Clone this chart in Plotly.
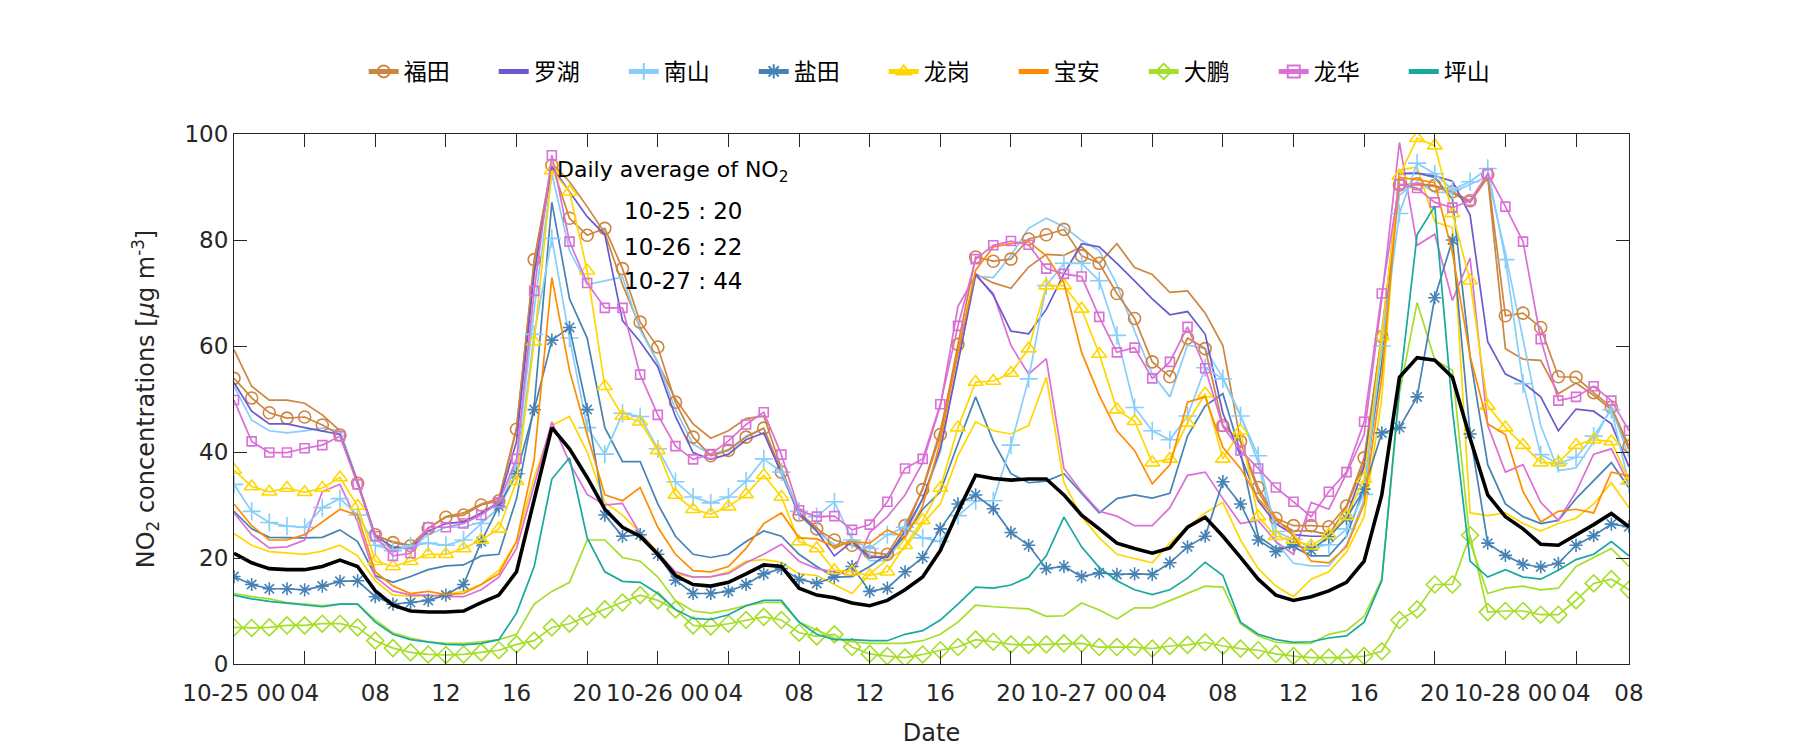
import plotly.graph_objects as go

HOURS = list(range(80))

TICK_POS = [0, 4, 8, 12, 16, 20, 24, 28, 32, 36, 40, 44, 48, 52, 56, 60, 64, 68, 72, 76, 79]
TICK_LABELS = ["10-25 00", "04", "08", "12", "16", "20", "10-26 00", "04", "08", "12", "16", "20",
               "10-27 00", "04", "08", "12", "16", "20", "10-28 00", "04", "08"]

futian = [53.9, 50.2, 47.4, 46.4, 46.6, 45.1, 43.2, 34.1, 24.4, 22.9, 22.3, 25.6, 27.7, 28.1, 30.0, 30.8, 44.3, 76.3, 94.1, 84.1,
          80.9, 82.2, 74.6, 64.5, 59.8, 49.4, 42.8, 39.3, 40.3, 42.8, 44.5, 36.2, 28.1, 25.5, 23.4, 22.4, 21.1, 20.7, 26.1, 32.9,
          43.3, 60.3, 76.8, 76.0, 76.4, 80.2, 81.0, 82.0, 77.0, 75.6, 69.9, 65.2, 57.0, 54.2, 61.5, 59.5, 45.0, 42.0, 33.3, 27.5,
          26.1, 26.1, 25.9, 29.8, 38.9, 61.8, 90.4, 90.6, 90.3, 89.1, 87.4, 92.3, 65.7, 66.2, 63.5, 54.2, 54.1, 51.2, 48.5, 41.1]
futian_b = [59.3, 52.4, 49.8, 49.8, 49.2, 47.0, 44.0, 34.5, 24.1, 23.1, 22.4, 25.6, 27.8, 28.5, 30.2, 31.2, 44.6, 75.6, 94.5, 91.0,
            86.3, 81.3, 71.6, 63.5, 56.8, 50.0, 45.3, 42.6, 44.0, 46.3, 46.8, 36.9, 28.5, 25.8, 21.8, 23.4, 20.4, 20.1, 25.1, 33.2,
            44.0, 58.8, 73.6, 71.9, 70.9, 74.9, 77.3, 77.1, 78.7, 75.6, 79.3, 74.8, 73.5, 70.1, 70.4, 66.2, 60.1, 42.0, 32.5, 27.1,
            25.1, 25.1, 24.4, 29.5, 37.9, 62.2, 90.4, 90.4, 90.1, 88.8, 87.1, 91.8, 59.5, 57.5, 57.3, 51.0, 53.0, 50.7, 48.0, 40.5]
luohu = [53.1, 47.7, 45.3, 45.3, 44.6, 44.0, 43.3, 34.2, 24.1, 22.1, 21.8, 25.1, 26.5, 26.8, 28.5, 30.5, 42.0, 73.6, 93.8, 89.1,
         84.4, 81.0, 64.8, 60.8, 56.1, 46.7, 39.9, 38.6, 39.6, 42.3, 43.6, 35.9, 28.5, 25.1, 20.4, 23.1, 20.1, 20.1, 25.1, 31.2,
         40.6, 56.8, 73.6, 69.6, 62.8, 62.3, 66.9, 73.6, 79.3, 78.7, 75.6, 72.3, 68.9, 65.9, 66.5, 62.2, 47.3, 39.3, 30.8, 26.5,
         24.4, 24.1, 24.1, 27.8, 37.2, 60.8, 92.5, 92.6, 92.1, 91.1, 84.7, 60.8, 54.7, 53.1, 50.4, 44.0, 48.1, 47.7, 45.3, 37.2]
nanshan = [33.9, 28.8, 26.7, 26.0, 25.8, 29.5, 31.2, 28.1, 22.4, 21.4, 22.3, 22.8, 22.4, 23.4, 26.5, 29.5, 35.9, 62.2, 80.3, 61.5,
           44.6, 39.6, 47.3, 46.7, 40.6, 34.4, 31.5, 30.4, 31.5, 34.5, 38.7, 36.2, 28.8, 27.8, 30.6, 23.4, 21.8, 24.4, 25.8, 23.8,
           23.1, 28.0, 30.8, 30.8, 41.3, 53.8, 71.4, 75.6, 75.6, 72.3, 62.0, 48.4, 44.0, 42.3, 46.8, 55.9, 53.8, 46.8, 39.3, 25.0,
           23.5, 22.0, 22.5, 25.5, 32.0, 60.0, 85.0, 94.5, 92.5, 89.5, 91.0, 93.5, 76.3, 52.9, 39.5, 37.8, 39.0, 43.0, 48.0, 34.0]
nanshan_b = [52.4, 46.0, 44.0, 43.6, 44.0, 44.5, 44.0, 34.2, 23.4, 21.8, 21.8, 24.4, 25.8, 25.8, 26.8, 29.2, 37.9, 66.9, 92.5, 78.0,
             71.6, 72.3, 73.0, 63.0, 57.0, 48.0, 41.5, 39.5, 40.5, 43.0, 44.5, 36.0, 28.0, 25.0, 22.5, 23.0, 19.5, 19.5, 24.5, 31.0,
             40.0, 57.0, 73.2, 72.9, 77.1, 82.2, 84.1, 82.5, 79.9, 78.0, 71.6, 62.8, 54.7, 50.4, 60.2, 59.5, 54.0, 47.0, 38.0, 23.0,
             19.0, 18.5, 18.5, 22.5, 31.0, 63.0, 88.5, 91.0, 89.0, 89.0, 90.5, 92.0, 77.5, 61.0, 45.0, 36.5, 37.0, 42.0, 48.5, 39.0]
yantian = [16.5, 15.0, 14.2, 14.2, 14.0, 14.7, 15.6, 15.7, 12.7, 11.3, 11.6, 12.0, 13.0, 15.0, 23.1, 29.8, 35.9, 48.0, 61.1, 63.5,
           48.0, 28.1, 24.1, 24.4, 20.7, 15.8, 13.3, 13.3, 13.7, 15.0, 17.0, 18.0, 16.0, 15.2, 16.4, 18.4, 13.7, 14.3, 17.4, 20.1,
           25.5, 30.2, 31.9, 29.3, 24.8, 22.4, 18.0, 18.4, 16.5, 17.2, 16.9, 17.0, 16.9, 19.1, 22.1, 24.1, 34.4, 30.2, 23.4, 21.2,
           22.5, 21.5, 24.0, 27.5, 33.0, 43.6, 44.6, 50.4, 69.1, 80.0, 43.4, 22.8, 20.5, 18.8, 18.3, 19.0, 22.4, 24.2, 26.4, 25.9]
yantian_b = [28.8, 25.5, 23.9, 23.8, 23.8, 23.9, 25.3, 23.1, 16.7, 15.4, 16.5, 17.8, 18.5, 18.7, 20.4, 20.7, 31.2, 48.7, 87.1, 68.9,
             61.5, 44.6, 38.2, 38.2, 30.2, 24.1, 20.7, 20.1, 20.7, 23.1, 25.1, 24.1, 20.7, 18.4, 16.4, 16.5, 18.4, 20.7, 24.1, 29.2,
             32.5, 41.6, 50.4, 42.0, 35.9, 34.2, 34.5, 35.9, 32.2, 28.5, 31.2, 31.9, 31.3, 32.2, 43.0, 48.7, 51.0, 39.9, 24.1, 21.8,
             22.1, 20.4, 20.4, 24.1, 33.2, 56.8, 92.5, 92.6, 91.8, 87.7, 58.0, 37.6, 30.2, 27.8, 26.5, 27.1, 31.2, 34.5, 38.0, 33.2]
longgang = [36.6, 33.5, 32.5, 33.2, 32.4, 33.2, 35.2, 29.8, 19.4, 18.4, 19.4, 20.7, 20.7, 21.8, 23.4, 25.5, 34.5, 60.8, 93.1, 89.1,
            74.2, 52.4, 46.8, 45.7, 40.3, 31.9, 29.2, 28.3, 29.7, 32.0, 35.6, 31.5, 23.1, 21.8, 17.7, 17.4, 16.7, 17.4, 22.4, 27.1,
            33.2, 44.6, 53.2, 53.4, 54.9, 59.5, 71.4, 71.4, 67.0, 58.5, 48.0, 45.8, 38.0, 38.7, 45.5, 51.0, 38.7, 44.0, 27.8, 24.1,
            23.4, 22.3, 24.4, 27.9, 34.9, 61.8, 92.1, 99.2, 97.8, 85.0, 72.3, 48.7, 44.6, 41.3, 38.0, 38.0, 41.3, 42.3, 42.0, 34.6]
longgang_b = [24.6, 22.4, 21.2, 20.9, 20.7, 21.3, 22.4, 20.4, 15.7, 13.0, 12.8, 12.8, 13.1, 13.7, 15.0, 17.7, 23.1, 35.2, 45.0, 46.7,
              40.0, 30.5, 28.1, 24.8, 21.1, 17.0, 16.4, 16.4, 17.4, 19.4, 19.7, 19.2, 17.0, 16.7, 15.0, 13.3, 17.0, 19.7, 21.8, 26.5,
              30.2, 39.3, 45.7, 44.0, 43.4, 45.0, 54.1, 34.2, 27.8, 23.8, 20.7, 19.9, 19.1, 22.8, 25.8, 28.5, 30.5, 23.4, 18.0, 14.7,
              12.7, 16.0, 17.4, 21.1, 27.8, 50.0, 93.2, 93.8, 83.4, 82.4, 28.5, 28.0, 28.5, 26.5, 25.1, 26.5, 27.5, 30.2, 34.2, 29.5]
baoan = [30.2, 26.1, 23.4, 23.4, 24.4, 26.8, 29.2, 28.1, 17.4, 14.7, 13.3, 13.7, 13.1, 13.3, 15.0, 17.0, 23.1, 38.6, 72.9, 55.4,
         43.3, 31.9, 30.8, 33.3, 25.8, 20.7, 17.6, 17.4, 18.4, 21.8, 26.5, 28.5, 23.8, 23.6, 22.1, 23.1, 22.8, 25.3, 23.8, 29.8,
         42.0, 58.8, 74.3, 78.7, 79.3, 79.7, 77.0, 71.9, 58.8, 50.7, 44.0, 40.3, 34.0, 37.6, 49.4, 50.4, 40.9, 36.9, 31.2, 27.5,
         24.1, 19.4, 19.1, 22.1, 30.2, 54.1, 91.8, 91.4, 90.8, 77.6, 58.1, 45.3, 43.3, 32.5, 26.8, 28.8, 29.2, 28.5, 36.2, 35.5]
dapeng = [6.9, 6.8, 6.9, 7.3, 7.3, 7.6, 7.6, 6.9, 4.4, 3.0, 2.2, 1.8, 1.7, 1.8, 2.2, 2.6, 3.7, 4.4, 6.9, 7.6,
          9.0, 10.3, 11.6, 13.0, 12.0, 10.3, 7.3, 7.1, 7.6, 8.3, 8.9, 8.3, 5.9, 5.2, 5.6, 3.2, 1.9, 1.5, 1.2, 1.8,
          2.6, 3.2, 4.6, 4.2, 3.7, 3.6, 3.7, 3.9, 3.9, 3.2, 3.2, 3.2, 2.9, 3.4, 3.6, 4.1, 3.4, 2.9, 2.6, 1.9,
          1.5, 1.2, 1.2, 1.2, 1.5, 2.4, 8.3, 10.3, 15.0, 15.0, 24.3, 9.8, 10.0, 10.0, 9.3, 9.3, 12.0, 15.2, 16.0, 14.0]
dapeng_b = [13.3, 12.7, 12.3, 11.6, 11.3, 11.0, 11.3, 11.3, 8.3, 5.9, 4.9, 4.2, 3.9, 3.9, 4.2, 4.6, 5.6, 11.3, 13.7, 15.4,
            23.4, 23.4, 20.1, 19.4, 16.4, 12.0, 10.0, 9.6, 10.2, 11.0, 11.6, 11.6, 7.9, 6.4, 4.9, 4.2, 3.9, 3.9, 3.9, 4.4,
            5.6, 7.9, 11.1, 10.8, 10.6, 10.4, 9.0, 9.1, 11.5, 10.2, 8.5, 10.6, 10.6, 12.0, 13.3, 14.7, 14.5, 7.6, 5.3, 4.1,
            3.9, 3.9, 5.6, 6.3, 9.0, 16.0, 51.0, 68.2, 57.4, 55.4, 23.0, 13.3, 14.3, 14.7, 14.0, 14.3, 18.4, 20.1, 21.8, 18.4]
longhua = [49.8, 42.0, 39.9, 39.9, 40.7, 41.3, 43.0, 33.9, 24.1, 20.4, 20.9, 25.8, 25.8, 26.5, 28.1, 30.5, 38.7, 70.4, 96.0, 79.7,
           71.9, 67.2, 67.2, 54.6, 47.0, 41.1, 38.6, 39.6, 42.1, 45.2, 47.5, 39.5, 29.0, 27.8, 27.9, 25.3, 26.3, 30.6, 36.9, 38.7,
           49.0, 63.8, 76.4, 79.0, 79.8, 79.1, 74.6, 73.6, 73.1, 65.5, 58.8, 59.7, 53.9, 57.0, 63.6, 55.8, 44.8, 40.3, 36.9, 33.3,
           30.6, 27.8, 32.5, 36.2, 45.7, 69.9, 90.5, 89.8, 87.1, 86.1, 87.4, 92.5, 86.3, 79.7, 61.3, 49.7, 50.4, 52.4, 49.7, 44.0]
longhua_b = [28.5, 24.4, 21.9, 22.1, 23.4, 32.5, 33.9, 26.8, 16.4, 13.8, 13.0, 13.0, 12.7, 12.7, 14.0, 16.4, 21.8, 33.9, 45.7, 38.0,
             32.0, 30.0, 30.3, 24.6, 20.9, 17.4, 16.4, 16.5, 17.1, 19.1, 20.7, 22.6, 19.4, 18.0, 17.4, 16.7, 24.8, 27.8, 31.9, 38.0,
             48.7, 67.5, 73.3, 69.9, 60.1, 54.7, 57.6, 36.9, 32.5, 28.8, 27.9, 26.1, 26.1, 29.5, 35.6, 36.2, 31.2, 26.5, 27.1, 23.1,
             20.7, 30.5, 29.2, 35.9, 43.3, 68.9, 98.4, 79.0, 81.1, 68.6, 76.6, 45.0, 36.2, 37.6, 30.5, 27.1, 32.5, 39.6, 40.6, 33.9]
pingshan = [13.0, 12.3, 11.8, 11.5, 11.1, 10.8, 11.3, 11.3, 7.9, 5.6, 4.6, 4.1, 3.7, 3.6, 3.9, 4.6, 9.6, 18.4, 34.9, 38.9,
            23.8, 17.4, 15.6, 15.4, 13.3, 10.3, 8.6, 8.4, 9.3, 11.0, 12.0, 12.0, 7.9, 5.6, 4.6, 4.6, 4.4, 4.4, 5.6, 6.3,
            8.3, 11.3, 14.5, 14.3, 14.9, 16.4, 20.4, 27.7, 22.1, 18.2, 15.7, 14.0, 13.1, 14.0, 16.2, 19.2, 16.7, 7.9, 5.6, 4.6,
            4.1, 4.2, 4.9, 5.3, 7.9, 15.7, 52.0, 81.0, 86.4, 48.0, 19.4, 16.4, 17.8, 16.4, 16.0, 17.7, 19.7, 20.7, 23.1, 20.4]
average = [20.9, 19.1, 18.0, 17.8, 17.8, 18.4, 19.6, 18.4, 13.8, 11.1, 10.0, 9.8, 9.8, 10.0, 11.6, 13.0, 17.4, 31.2, 44.6, 40.6,
           35.2, 29.2, 25.8, 24.1, 20.7, 16.7, 15.0, 14.7, 15.4, 17.0, 18.7, 18.4, 14.3, 13.0, 12.5, 11.5, 11.0, 12.0, 14.0, 16.4,
           21.4, 28.8, 35.6, 35.0, 34.7, 34.9, 34.9, 31.9, 28.1, 25.5, 22.8, 21.8, 20.9, 21.9, 25.8, 27.7, 24.1, 20.1, 16.0, 13.0,
           12.0, 12.7, 13.8, 15.4, 19.4, 31.9, 54.1, 57.8, 57.3, 54.1, 42.6, 31.9, 27.8, 25.5, 22.6, 22.4, 24.3, 26.3, 28.4, 25.9]

DAILY_TITLE = "Daily average of NO<sub>2</sub>"
DAILY_LINES = ["10-25 : 20", "10-26 : 22", "10-27 : 44"]

C = {
    "福田": "#CD853F", "罗湖": "#6A5ACD", "南山": "#87CEFA", "盐田": "#4682B4", "龙岗": "#FFD700",
    "宝安": "#FF8C00", "大鹏": "#A5DE28", "龙华": "#DA70D6", "坪山": "#17A89E",
}

FONT = "DejaVu Sans, Noto Sans CJK SC, sans-serif"
AX = "#262626"
FS = 23

fig = go.Figure()

# unmarked companion lines (not in legend)
for name, ys in [("福田", futian_b), ("南山", nanshan_b), ("盐田", yantian_b), ("龙岗", longgang_b),
                 ("大鹏", dapeng_b), ("龙华", longhua_b)]:
    fig.add_trace(go.Scatter(x=HOURS, y=ys, mode="lines", line=dict(color=C[name], width=1.7),
                             showlegend=False, hoverinfo="skip"))

main = [
    ("福田", futian, "circle-open", 12),
    ("罗湖", luohu, None, 0),
    ("南山", nanshan, "cross-thin-open", 13),
    ("盐田", yantian, "asterisk-open", 11),
    ("龙岗", longgang, "triangle-up-open", 13),
    ("宝安", baoan, None, 0),
    ("大鹏", dapeng, "diamond-open", 13),
    ("龙华", longhua, "square-open", 9),
    ("坪山", pingshan, None, 0),
]
for name, ys, sym, sz in main:
    if sym:
        fig.add_trace(go.Scatter(x=HOURS, y=ys, mode="lines+markers", name=name,
                                 line=dict(color=C[name], width=1.7),
                                 marker=dict(symbol=sym, size=sz, color=C[name],
                                             line=dict(color=C[name], width=1.6))))
    else:
        fig.add_trace(go.Scatter(x=HOURS, y=ys, mode="lines", name=name,
                                 line=dict(color=C[name], width=1.7)))

fig.add_trace(go.Scatter(x=HOURS, y=average, mode="lines", line=dict(color="black", width=3.6),
                         showlegend=False))

fig.add_annotation(x=18.2, y=93, xref="x", yref="y", text=DAILY_TITLE, showarrow=False,
                   xanchor="left", yanchor="middle", font=dict(size=22, color="black", family=FONT))
for t, yy in zip(DAILY_LINES, [85.4, 78.7, 72.3]):
    fig.add_annotation(x=22.0, y=yy, xref="x", yref="y", text=t, showarrow=False,
                       xanchor="left", yanchor="middle", font=dict(size=FS, color="black", family=FONT))

fig.update_layout(
    width=1800, height=750,
    margin=dict(l=234, r=171, t=134, b=86, autoexpand=False),
    paper_bgcolor="white", plot_bgcolor="white",
    font=dict(family=FONT, size=FS, color=AX),
    legend=dict(orientation="h", x=0.093, xanchor="left", y=1.118, yanchor="middle",
                font=dict(size=FS, color="black", family=FONT),
                entrywidth=85, entrywidthmode="pixels", bgcolor="rgba(0,0,0,0)",
                itemsizing="constant"),
    showlegend=True,
)
fig.update_xaxes(range=[0, 79], tickvals=TICK_POS, ticktext=TICK_LABELS,
                 showgrid=False, zeroline=False, showline=True, linecolor=AX, linewidth=1,
                 mirror="allticks", ticks="inside", ticklen=13, tickcolor=AX, tickwidth=1,
                 tickfont=dict(size=FS, color=AX), automargin=False, ticklabelstandoff=8,
                 title=dict(text="Date", font=dict(size=24, color=AX), standoff=19))
fig.update_yaxes(range=[0, 100], tickvals=[0, 20, 40, 60, 80, 100],
                 showgrid=False, zeroline=False, showline=True, linecolor=AX, linewidth=1,
                 mirror="allticks", ticks="inside", ticklen=13, tickcolor=AX, tickwidth=1,
                 tickfont=dict(size=FS, color=AX), automargin=False,
                 title=dict(text="NO<sub>2</sub> concentrations [<i>μ</i>g m<sup>-3</sup>]",
                            font=dict(size=24, color=AX), standoff=23))

fig.write_html("out.html", config={"displayModeBar": False},
               post_script="document.body.style.margin='0';document.body.style.overflow='hidden';")
